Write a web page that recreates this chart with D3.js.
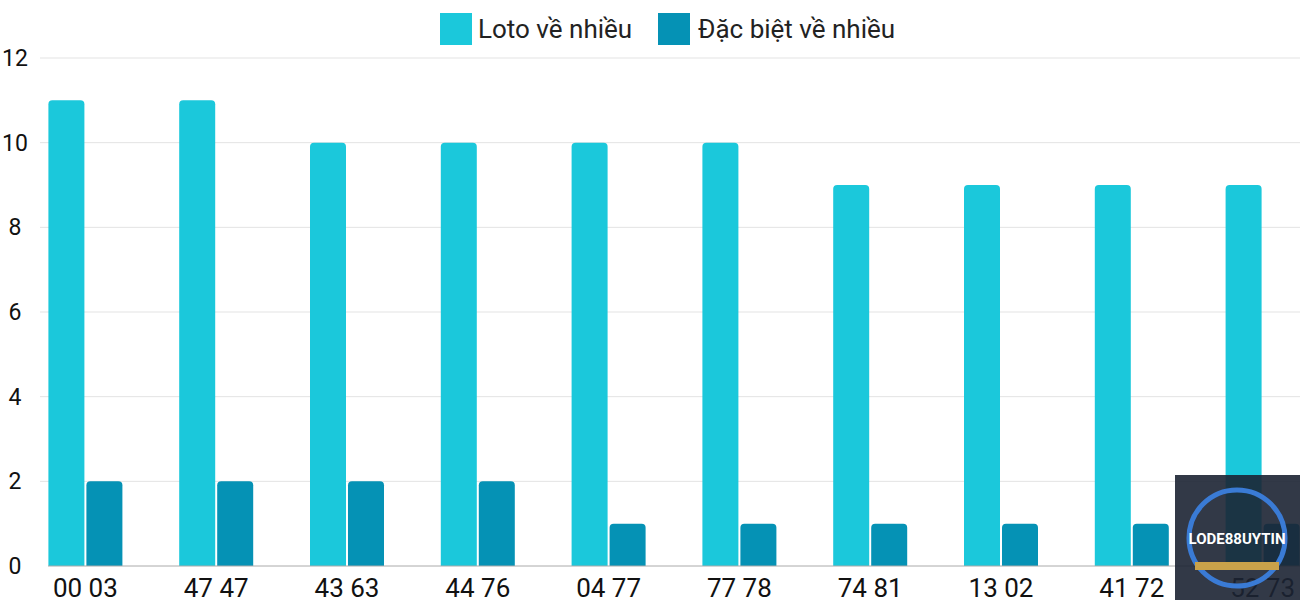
<!DOCTYPE html>
<html><head><meta charset="utf-8">
<script src="https://cdn.jsdelivr.net/npm/d3@7"></script>
<style>body{margin:0;background:#fff}text{font-family:Roboto,sans-serif}</style>
</head><body><svg id="c" width="1300" height="600"></svg>
<script>
const categories=["00 03","47 47","43 63","44 76","04 77","77 78","74 81","13 02","41 72","52 73"];
const loto=[11,11,10,10,10,10,9,9,9,9];
const special=[2,2,2,2,1,1,1,1,1,1];
const yTicks=[0,2,4,6,8,10,12];
const seriesNames=["Loto về nhiều","Đặc biệt về nhiều"];
const colors=["#1bc8db","#0592b5"];

const svg=d3.select("#c");
const x=d3.scaleBand().domain(categories).range([20,1328]);
const y=d3.scaleLinear().domain([0,12]).range([566,58]);
const bw=36;

svg.append("g").selectAll("line").data(yTicks.filter(d=>d>0)).join("line")
 .attr("x1",40).attr("x2",1300).attr("y1",d=>y(d)).attr("y2",d=>y(d))
 .attr("stroke","#e3e3e3").attr("stroke-width",1);
svg.append("g").selectAll("text").data(yTicks).join("text")
 .attr("x",15).attr("y",d=>y(d)+8).attr("text-anchor","middle")
 .attr("font-size",23).attr("fill","#111").text(d=>d);

function bar(g,vals,off,col){
 g.selectAll("path").data(vals).join("path").attr("fill",col).attr("d",(v,i)=>{
  const cx=x(categories[i])+x.bandwidth()/2+off;
  const x0=cx-bw/2,y0=y(v),y1=y(0),r=4;
  return `M${x0},${y1}V${y0+r}Q${x0},${y0} ${x0+r},${y0}H${x0+bw-r}Q${x0+bw},${y0} ${x0+bw},${y0+r}V${y1}Z`;
 });
}
bar(svg.append("g"),loto,-19,colors[0]);
bar(svg.append("g"),special,19,colors[1]);

svg.append("line").attr("x1",48).attr("x2",1300).attr("y1",566).attr("y2",566).attr("stroke","#aaa");
svg.append("g").selectAll("text").data(categories).join("text")
 .attr("x",d=>x(d)+x.bandwidth()/2).attr("y",597).attr("text-anchor","middle")
 .attr("font-size",26).attr("fill","#111").text(d=>d);

// legend
const lg=svg.append("g");
lg.append("rect").attr("x",440).attr("y",13).attr("width",32).attr("height",32).attr("fill",colors[0]);
lg.append("text").attr("x",478).attr("y",38).attr("font-size",26).attr("fill","#222").text(seriesNames[0]);
lg.append("rect").attr("x",658).attr("y",13).attr("width",32).attr("height",32).attr("fill",colors[1]);
lg.append("text").attr("x",698).attr("y",38).attr("font-size",26).attr("fill","#222").text(seriesNames[1]);

// watermark logo
const w=svg.append("g");
w.append("rect").attr("x",1175).attr("y",475).attr("width",125).attr("height",125).attr("fill","#1c2433").attr("opacity",0.9);
w.append("circle").attr("cx",1237).attr("cy",538).attr("r",48).attr("fill","none").attr("stroke","#3a7bd5").attr("stroke-width",5);
w.append("text").attr("x",1237).attr("y",544).attr("text-anchor","middle").attr("font-size",15).attr("font-weight","bold").attr("fill","#fff").text("LODE88UYTIN");
w.append("rect").attr("x",1195).attr("y",562).attr("width",84).attr("height",8).attr("fill","#c9a24a");
</script></body></html>
